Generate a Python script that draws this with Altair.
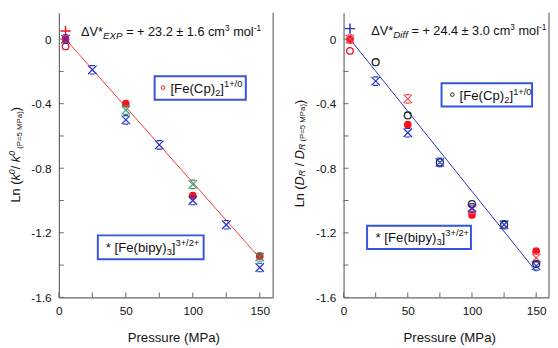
import altair as alt
import pandas as pd

FONT = "Liberation Sans"
TXT = "#111111"
AXC = "#666666"

# ---------------- data ----------------
# Left panel: Ln(k0/k0(P=5 MPa)) vs Pressure
L_red_fill_P = [5, 50, 100, 150]
L_red_fill_v = [0.0, -0.40, -0.97, -1.345]
L_blue_ast_P = [5, 25, 50, 75, 100, 125, 150]
L_blue_ast_v = [0.0, -0.19, -0.50, -0.655, -1.00, -1.15, -1.415]
L_green_ast_P = [50, 100, 150]
L_green_ast_v = [-0.44, -0.90, -1.35]
L_red_plus_P = [5]
L_red_plus_v = [0.05]
L_red_open_P = [5]
L_red_open_v = [-0.045]
L_fit_P = [5, 150]
L_fit_v = [0.0, -1.357]

# Right panel: Ln(D_R / D_R(P=5 MPa)) vs Pressure
R_red_fill_P = [5, 50, 100, 150]
R_red_fill_v = [0.0, -0.53, -1.09, -1.313]
R_red_ast_P = [5, 50, 100, 150]
R_red_ast_v = [0.0, -0.37, -1.055, -1.355]
R_black_open_P = [25, 50, 75, 100, 125, 150]
R_black_open_v = [-0.143, -0.473, -0.764, -1.022, -1.15, -1.394]
R_blue_ast_P = [25, 50, 75, 100, 125, 150]
R_blue_ast_v = [-0.26, -0.58, -0.764, -1.045, -1.15, -1.405]
R_blue_plus_P = [5]
R_blue_plus_v = [0.065]
R_red_open_P = [5]
R_red_open_v = [-0.073]
R_fit_P = [5, 150]
R_fit_v = [0.0, -1.44]

x_ticks = [0, 25, 50, 75, 100, 125, 150]
x_labels = [0, 50, 100, 150]
y_ticks = [-1.6, -1.4, -1.2, -1.0, -0.8, -0.6, -0.4, -0.2, 0.0]
y_labels = [-1.6, -1.2, -0.8, -0.4, 0.0]

# ---------------- layout ----------------
W_L, W_R, H = 219, 210, 291
X_DOM = [0, 160]
Y_DOM = [-1.6, 0.164]

RED = "#f5141e"
BLUE = "#2233cc"
GREEN = "#2e9e6a"
PINK = "#f04a5a"
BLACK = "#1a2a1a"
BOXC = "#3355dd"

ASTER = "M-1,-1L1,1M1,-1L-1,1M-0.6,-1L0.6,-1M-0.6,1L0.6,1"
PLUS = "M-1,0L1,0M0,-1L0,1"

ADV = {' ': 278, '(': 333, ')': 333, '[': 278, ']': 278, '*': 389,
       '+': 584, '-': 333, '.': 278, '/': 278, '=': 584, '±': 549, 'Δ': 668,
       'C': 722, 'D': 722, 'E': 667, 'F': 611, 'L': 556, 'M': 833, 'P': 667,
       'R': 722, 'V': 667, 'X': 667, 'a': 556, 'b': 556, 'c': 500, 'e': 556,
       'f': 278, 'i': 222, 'k': 500, 'l': 222, 'm': 833, 'n': 556, 'o': 556,
       'p': 556, 'r': 333, 's': 500, 'u': 556, 'y': 500}


def tw(s, size):
    return sum(ADV.get(c, 556) for c in s) * size / 1000.0


ONE = pd.DataFrame({"o": [0]})
xsc = alt.Scale(domain=X_DOM, nice=False, zero=False)
ysc = alt.Scale(domain=Y_DOM, nice=False, zero=False)


def rich(segs, x, y, angle=None, color=TXT):
    """segs: (text, size, baseline shift, italic). Leading/trailing spaces
    become offsets so that the renderer cannot collapse them."""
    out = []
    off = 0.0
    for s, size, shift, ital in segs:
        core = s.strip(" ")
        lead = len(s) - len(s.lstrip(" "))
        trail = len(s) - len(s.rstrip(" "))
        off += lead * 278 * size / 1000.0
        kw = dict(text=core, font=FONT, fontSize=size, align="left",
                  baseline="alphabetic", dx=round(off, 2), dy=shift, color=color)
        if ital:
            kw["fontStyle"] = "italic"
        if angle is not None:
            kw["angle"] = angle
        out.append(alt.Chart(ONE).mark_text(**kw).encode(x=x, y=y))
        off += tw(core, size) + trail * 278 * size / 1000.0
    return out


def axes(title_x):
    ax = alt.Axis(values=x_labels, ticks=False, tickSize=0, grid=False,
                  domainColor=AXC, domainWidth=1.2, labelFont=FONT,
                  labelFontSize=12, labelColor=TXT, labelPadding=9,
                  labelFlush=False, title="Pressure (MPa)", titleFont=FONT,
                  titleFontSize=13.5, titleFontWeight="normal", titleColor=TXT,
                  titleX=title_x, titleY=45, titleBaseline="alphabetic",
                  titleAnchor="start", titleAlign="center")
    ay = alt.Axis(values=y_labels, ticks=False, tickSize=0, grid=False,
                  domainColor=AXC, domainWidth=1.2, labelFont=FONT,
                  labelFontSize=12, labelColor=TXT, labelPadding=8,
                  labelFlush=False, title=None,
                  labelExpr="datum.value == 0 ? '0' : '-' + format(abs(datum.value), '.1f')")
    return ax, ay


def pts(P, v, shape, color, size, filled, ax, ay, sw=1.0):
    df = pd.DataFrame({"P": P, "v": v})
    m = alt.Chart(df).mark_point(shape=shape, size=size, filled=filled,
                                 color=color, strokeWidth=sw, opacity=1)
    return m.encode(x=alt.X("P:Q", scale=xsc, axis=ax),
                    y=alt.Y("v:Q", scale=ysc, axis=ay))


def line(P, v, color, ax, ay):
    df = pd.DataFrame({"P": P, "v": v})
    return alt.Chart(df).mark_line(color=color, strokeWidth=1).encode(
        x=alt.X("P:Q", scale=xsc, axis=ax), y=alt.Y("v:Q", scale=ysc, axis=ay))


def frame(W):
    xt = alt.Chart(pd.DataFrame({"P": x_ticks})).mark_rule(color=AXC, strokeWidth=1).encode(
        x=alt.X("P:Q", scale=xsc), y=alt.value(H), y2=alt.value(H - 5))
    yt = alt.Chart(pd.DataFrame({"v": y_ticks})).mark_rule(color=AXC, strokeWidth=1).encode(
        y=alt.Y("v:Q", scale=ysc), x=alt.value(0), x2=alt.value(5))
    rb = alt.Chart(ONE).mark_rule(color=AXC, strokeWidth=1.2).encode(
        x=alt.value(W), y=alt.value(0), y2=alt.value(H))
    return [xt, yt, rb]


def box(x1, x2, y1, y2):
    return alt.Chart(ONE).mark_rect(fill="white", stroke=BOXC, strokeWidth=2).encode(
        x=alt.datum(x1), x2=alt.datum(x2), y=alt.datum(y1), y2=alt.datum(y2))


def small_circle(P, v, color):
    return alt.Chart(ONE).mark_point(shape="circle", size=14, filled=False,
                                     color=color, strokeWidth=1, opacity=1).encode(
        x=alt.datum(P), y=alt.datum(v))


# ---------------- left panel ----------------
axL, ayL = axes(117)
left_layers = frame(W_L) + [
    line(L_fit_P, L_fit_v, "#ff3333", axL, ayL),
    pts(L_red_plus_P, L_red_plus_v, PLUS, RED, 110, False, axL, ayL, 1.5),
    pts(L_red_open_P, L_red_open_v, "circle", RED, 45, False, axL, ayL, 1.3),
    pts(L_red_fill_P, L_red_fill_v, "circle", RED, 62, True, axL, ayL),
    pts(L_green_ast_P, L_green_ast_v, ASTER, GREEN, 75, False, axL, ayL, 1.2),
    pts(L_blue_ast_P, L_blue_ast_v, ASTER, BLUE, 75, False, axL, ayL, 1.2),
    box(71.5, 139.6, -0.23, -0.376),
    box(29.1, 108.1, -1.216, -1.364),
    small_circle(77.8, -0.30, RED),
]
left_layers += rich([("ΔV*", 13, 0, False), ("EXP", 10, 3, True),
                     (" = + 23.2 ± 1.6 cm", 13, 0, False), ("3", 8.5, -5, False),
                     (" mol", 13, 0, False), ("-1", 8.5, -5, False)],
                    alt.datum(16.6), alt.datum(0.02))
left_layers += rich([("[Fe(Cp)", 13.5, 0, False), ("2", 9.5, 3, False),
                     ("]", 13.5, 0, False), ("1+/0", 9.5, -6, False)],
                    alt.datum(83.3), alt.datum(-0.336))
left_layers += rich([("* [Fe(bipy)", 13.5, 0, False), ("3", 9.5, 3, False),
                     ("]", 13.5, 0, False), ("3+/2+", 9.5, -6, False)],
                    alt.datum(35.0), alt.datum(-1.321))
left_layers += rich([("Ln (", 13, 0, False), ("k", 13, 0, True), ("0", 9, -5, True),
                     ("/ ", 13, 0, False), ("k", 13, 0, True), ("0", 9, -5, True),
                     (" (P=5 MPa)", 8, 2, False), (")", 13, 0, False)],
                    alt.value(-39.5), alt.value(194), angle=270)

left = alt.layer(*left_layers).properties(width=W_L, height=H)

# ---------------- right panel ----------------
axR, ayR = axes(108)
right_layers = frame(W_R) + [
    line(R_fit_P, R_fit_v, BLUE, axR, ayR),
    pts(R_blue_plus_P, R_blue_plus_v, PLUS, BLUE, 110, False, axR, ayR, 1.5),
    pts(R_red_open_P, R_red_open_v, "circle", RED, 45, False, axR, ayR, 1.3),
    pts(R_red_fill_P, R_red_fill_v, "circle", RED, 62, True, axR, ayR),
    pts(R_red_ast_P, R_red_ast_v, ASTER, PINK, 75, False, axR, ayR, 1.2),
    pts(R_black_open_P, R_black_open_v, "circle", BLACK, 50, False, axR, ayR, 1.3),
    pts(R_blue_ast_P, R_blue_ast_v, ASTER, BLUE, 75, False, axR, ayR, 1.2),
    box(76.3, 146.8, -0.273, -0.418),
    box(18.3, 99.2, -1.156, -1.301),
    small_circle(84.7, -0.344, BLACK),
]
right_layers += rich([("ΔV*", 13, 0, False), ("Diff", 10, 3, True),
                      (" = + 24.4 ± 3.0 cm", 13, 0, False), ("3", 8.5, -5, False),
                      (" mol", 13, 0, False), ("-1", 8.5, -5, False)],
                     alt.datum(21.6), alt.datum(0.028))
right_layers += rich([("[Fe(Cp)", 13.5, 0, False), ("2", 9.5, 3, False),
                      ("]", 13.5, 0, False), ("1+/0", 9.5, -6, False)],
                     alt.datum(90.3), alt.datum(-0.38))
right_layers += rich([("* [Fe(bipy)", 13.5, 0, False), ("3", 9.5, 3, False),
                      ("]", 13.5, 0, False), ("3+/2+", 9.5, -6, False)],
                     alt.datum(24.9), alt.datum(-1.258))
right_layers += rich([("Ln (", 13, 0, False), ("D", 13, 0, True), ("R", 9, 1, True),
                      (" / ", 13, 0, False), ("D", 13, 0, True), ("R", 9, 1, True),
                      (" (P=5 MPa)", 8, 1, False), (")", 13, 0, False)],
                     alt.value(-40), alt.value(199), angle=270)

right = alt.layer(*right_layers).properties(width=W_R, height=H)

chart = alt.hconcat(left, right, spacing=72, bounds="flush").properties(
    padding=0, background="white"
).configure_view(stroke=None)

chart.save("out.html", embed_options={"renderer": "svg", "actions": False})
